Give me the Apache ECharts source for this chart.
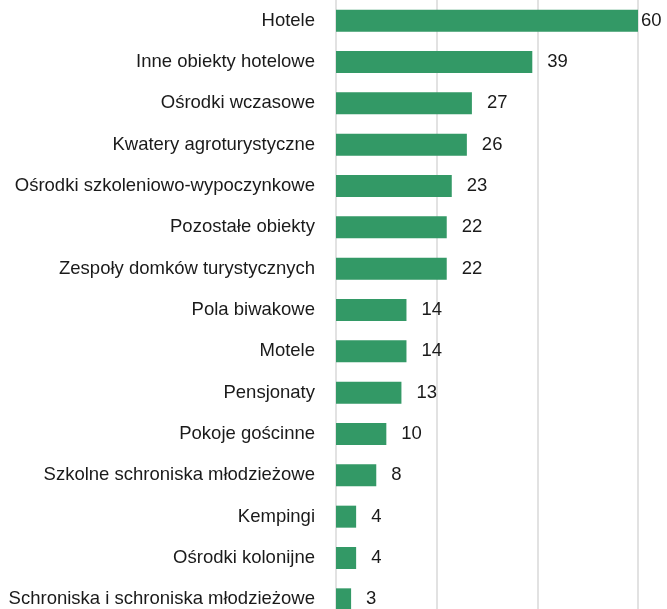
<!DOCTYPE html>
<html><head><meta charset="utf-8">
<script src="https://cdn.jsdelivr.net/npm/echarts@6/dist/echarts.min.js"></script>
<style>html,body{margin:0;padding:0;background:#fff;overflow:hidden}#c{width:667px;height:620px}</style>
</head><body><div id="c"></div>
<script>
const categories = ["Hotele","Inne obiekty hotelowe","Ośrodki wczasowe","Kwatery agroturystyczne","Ośrodki szkoleniowo-wypoczynkowe","Pozostałe obiekty","Zespoły domków turystycznych","Pola biwakowe","Motele","Pensjonaty","Pokoje gościnne","Szkolne schroniska młodzieżowe","Kempingi","Ośrodki kolonijne","Schroniska i schroniska młodzieżowe"];
const values = [60,39,27,26,23,22,22,14,14,13,10,8,4,4,3];
const xTicks = [0,20,40,60];

const chart = echarts.init(document.getElementById('c'), null, {renderer:'canvas'});
chart.setOption({
  animation:false,
  grid:{left:336, right:29, top:0, bottom:0, containLabel:false},
  xAxis:{type:'value', min:xTicks[0], max:xTicks[xTicks.length-1], interval:20,
    axisLabel:{show:false}, axisLine:{show:false}, axisTick:{show:false},
    splitLine:{show:true, lineStyle:{color:'#d9d9d9', width:1.5}}},
  yAxis:{type:'category', inverse:true, data:categories,
    axisLine:{show:false}, axisTick:{show:false},
    axisLabel:{margin:21, color:'#1a1a1a', fontFamily:'Liberation Sans, Arial, sans-serif', fontSize:18.5}},
  series:[{type:'bar', barWidth:22,
    data: values.map((v,i)=>({value:v, label: i===0 ? {distance:3} : undefined})),
    itemStyle:{color:'#339966'},
    label:{show:true, position:'right', distance:15, color:'#1a1a1a',
      fontFamily:'Liberation Sans, Arial, sans-serif', fontSize:18.5}}]
});
</script></body></html>
